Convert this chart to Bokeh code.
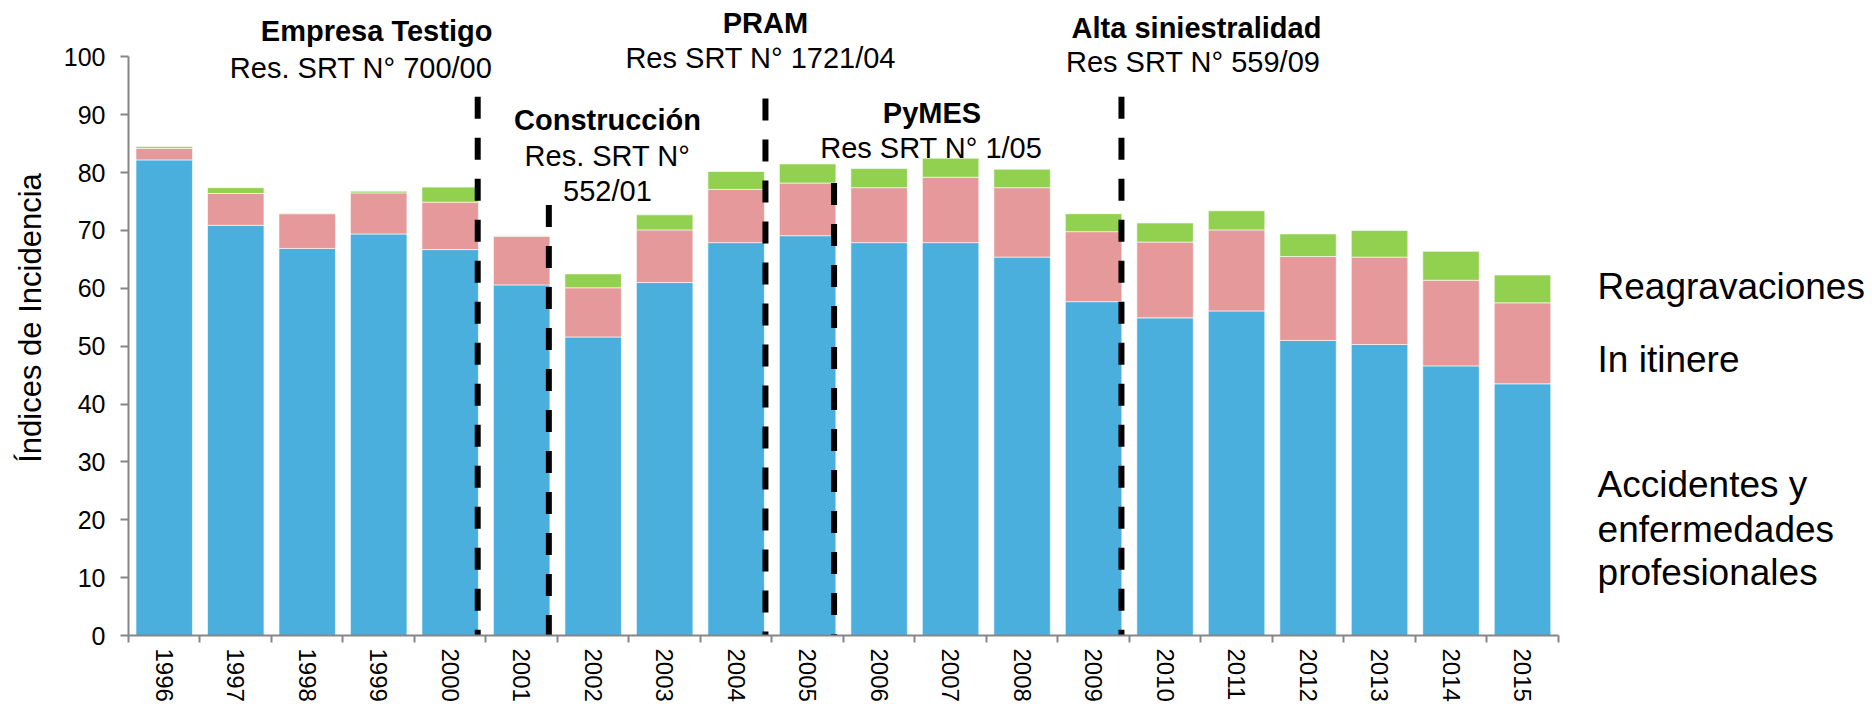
from bokeh.plotting import figure
from bokeh.models import ColumnDataSource, Range1d, FixedTicker, Label
from bokeh.embed import file_html
from bokeh.resources import INLINE

# ---- data -------------------------------------------------------------
years = ["1996", "1997", "1998", "1999", "2000", "2001", "2002", "2003", "2004", "2005",
         "2006", "2007", "2008", "2009", "2010", "2011", "2012", "2013", "2014", "2015"]
accidentes = [82.2, 70.9, 66.9, 69.4, 66.7, 60.6, 51.6, 61.0, 67.9, 69.1,
              67.9, 67.9, 65.4, 57.7, 54.9, 56.1, 51.0, 50.3, 46.6, 43.5]
in_itinere = [2.0, 5.5, 6.0, 7.1, 8.2, 8.4, 8.5, 9.1, 9.2, 9.1,
              9.5, 11.3, 12.0, 12.1, 13.1, 14.0, 14.5, 15.1, 14.8, 14.0]
reagravaciones = [0.3, 1.0, 0.1, 0.3, 2.6, 0.1, 2.4, 2.6, 3.1, 3.3,
                  3.3, 3.3, 3.2, 3.1, 3.3, 3.3, 3.9, 4.6, 5.0, 4.8]
series_names = ["Accidentes y\nenfermedades\nprofesionales", "In itinere", "Reagravaciones"]
y_ticks = [0, 10, 20, 30, 40, 50, 60, 70, 80, 90, 100]

# regulation markers: (x position in category units, top value)
marker_x = [4.385, 5.38, 8.41, 9.37, 13.39]
marker_top = [93.1, 74.4, 92.8, 78.2, 93.1]

FONT = "Liberation Sans"
COLORS = ["#4BAFDE", "#E6999A", "#92D050"]
AXIS_GRAY = "#868686"
DY = 1.85  # baseline correction for Label placement

idx = list(range(len(years)))
source = ColumnDataSource(dict(x=idx, acc=accidentes, iti=in_itinere, rea=reagravaciones))

# the frame is stretched over the whole canvas (above and to the right of the
# chart) so that the annotation texts are not clipped; axis bounds keep the axes short
p = figure(width=1872, height=704,
           x_range=Range1d(-0.5, 23.896), y_range=Range1d(0, 109.75),
           output_backend="svg", toolbar_location=None,
           min_border_left=128, min_border_right=0,
           min_border_top=0, min_border_bottom=69)
p.outline_line_color = None
p.xgrid.visible = False
p.ygrid.visible = False
p.background_fill_color = "white"
p.border_fill_color = "white"

p.vbar_stack(["acc", "iti", "rea"], x="x", width=0.79, source=source,
             color=COLORS, line_color="white", line_alpha=0.6, line_width=1)

# dashed regulation lines
p.segment(x0=marker_x, y0=marker_top, x1=marker_x, y1=[0] * len(marker_x),
          line_color="black", line_width=6, line_dash="22 19", line_cap="butt")

# ---- axes ---------------------------------------------------------------
xa = p.xaxis[0]
xa.bounds = (-0.5, len(years) - 0.5)
xa.ticker = FixedTicker(ticks=idx, minor_ticks=[i - 0.5 for i in range(len(years) + 1)])
xa.major_label_overrides = {i: years[i] for i in idx}
xa.major_label_orientation = "vertical"
xa.major_tick_out = 0
xa.major_tick_in = 0
xa.major_tick_line_color = None
xa.minor_tick_out = 7
xa.minor_tick_in = 0
xa.minor_tick_line_color = AXIS_GRAY
xa.minor_tick_line_width = 2
xa.axis_line_color = AXIS_GRAY
xa.axis_line_width = 2
xa.major_label_text_font = FONT
xa.major_label_text_font_size = "24px"
xa.major_label_text_color = "black"
xa.major_label_standoff = 6

ya = p.yaxis[0]
ya.bounds = (0, 100)
ya.ticker = FixedTicker(ticks=y_ticks, minor_ticks=[])
ya.major_tick_out = 8
ya.major_tick_in = 0
ya.major_tick_line_color = AXIS_GRAY
ya.major_tick_line_width = 2
ya.axis_line_color = AXIS_GRAY
ya.axis_line_width = 2
ya.major_label_text_font = FONT
ya.major_label_text_font_size = "25px"
ya.major_label_text_color = "black"
ya.major_label_standoff = 15
ya.axis_label = "Índices de Incidencia"
ya.axis_label_text_font = FONT
ya.axis_label_text_font_size = "31px"
ya.axis_label_text_font_style = "normal"
ya.axis_label_text_color = "black"
ya.axis_label_standoff = 13

# ---- annotations --------------------------------------------------------
def add_text(x, y, text, bold=False, align="center", size="29px"):
    p.add_layout(Label(x=x, y=y + DY, text=text, text_font=FONT, text_font_size=size,
                       text_font_style="bold" if bold else "normal",
                       text_align=align, text_baseline="alphabetic",
                       text_color="black"))

add_text(4.59, 102.6, "Empresa Testigo", bold=True, align="right")
add_text(4.59, 96.3, "Res. SRT N° 700/00", align="right")
add_text(6.20, 87.3, "Construcción", bold=True)
add_text(6.20, 81.0, "Res. SRT N°")
add_text(6.20, 74.9, "552/01")
add_text(8.41, 104.0, "PRAM", bold=True)
add_text(8.40, 98.0, "Res  SRT N° 1721/04")
add_text(10.74, 88.5, "PyMES", bold=True)
add_text(10.73, 82.4, "Res SRT N° 1/05")
add_text(14.44, 103.2, "Alta siniestralidad", bold=True)
add_text(14.45, 97.2, "Res  SRT N° 559/09")

# series labels at the right
legend_y = {"Reagravaciones": [58.5], "In itinere": [45.9],
            "Accidentes y\nenfermedades\nprofesionales": [24.2, 16.5, 9.0]}
for name in series_names[::-1]:
    for line, yy in zip(name.split("\n"), legend_y[name]):
        add_text(20.05, yy, line, align="left", size="37px")

open("out.html", "w").write(file_html(p, INLINE))
